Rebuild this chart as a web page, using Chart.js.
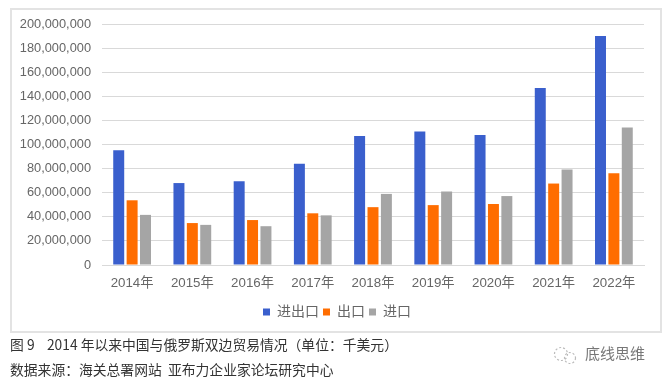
<!DOCTYPE html>
<html><head><meta charset="utf-8">
<script src="https://cdn.jsdelivr.net/npm/chart.js@4"></script>
<style>
html,body{margin:0;padding:0;background:#fff;width:670px;height:385px;overflow:hidden}
#frame{position:absolute;left:10px;top:8px;width:648px;height:321px;border:2px solid #e3e3e3;box-sizing:content-box}
#wrap{position:absolute;left:0;top:0;width:670px;height:335px}
.t{position:absolute;left:10px;font:13.8px "Noto Sans CJK SC",sans-serif;color:#333;white-space:pre;line-height:20px}
#wm{position:absolute;left:585px;top:343px;font:15px "Noto Sans CJK SC",sans-serif;color:#777;line-height:20px}
#ic{position:absolute;left:552px;top:345px}
</style></head><body>
<div id="frame"></div>
<div id="wrap"><canvas id="c" width="670" height="335"></canvas></div>
<div class="t" style="top:334px">图 9    2014 年以来中国与俄罗斯双边贸易情况（单位：千美元）</div>
<div class="t" style="top:359px">数据来源：海关总署网站  亚布力企业家论坛研究中心</div>
<svg id="ic" width="28" height="20" viewBox="0 0 28 20"><circle cx="9" cy="9" r="6.5" fill="none" stroke="#bbb" stroke-width="1.2" stroke-dasharray="2 2"/><circle cx="18" cy="13" r="5.5" fill="none" stroke="#bbb" stroke-width="1.2" stroke-dasharray="2 2"/></svg>
<div id="wm">底线思维</div>
<script>
const categories=["2014年","2015年","2016年","2017年","2018年","2019年","2020年","2021年","2022年"];
const totalTrade=[95300000,68000000,69500000,84000000,107000000,110800000,107800000,146900000,190000000];
const exportsData=[53700000,34800000,37300000,42900000,48000000,49700000,50600000,67600000,76100000];
const importsData=[41600000,33300000,32200000,41200000,59000000,61000000,57200000,79300000,114100000];
const seriesNames=["进出口","出口","进口"];
const font='"Liberation Sans","Noto Sans CJK SC",sans-serif';
const mk=(label,data,color)=>({label,data,backgroundColor:color,categoryPercentage:0.667,barPercentage:0.82});
const shiftLegend={id:'shiftLegend',afterLayout(chart){chart.legend.left+=15;chart.legend.right+=15;}};
new Chart(document.getElementById('c'),{
 type:'bar',
 plugins:[shiftLegend],
 data:{labels:categories,datasets:[mk(seriesNames[0],totalTrade,'#3a5fcd'),mk(seriesNames[1],exportsData,'#ff6d00'),mk(seriesNames[2],importsData,'#a5a5a5')]},
 options:{responsive:false,animation:false,
  layout:{padding:{left:0,right:26,top:24,bottom:6}},
  plugins:{tooltip:{enabled:false},
   legend:{position:'bottom',labels:{boxWidth:7,boxHeight:7,padding:4,color:'#666',font:{family:font,size:14}}}},
  scales:{
   x:{grid:{display:false},border:{color:'#d9d9d9',width:1},ticks:{color:'#666',font:{family:font,size:13.3},padding:2,maxRotation:0},
      afterFit(s){s.height=36}},
   y:{min:0,max:200000000,grid:{color:'#d9d9d9',lineWidth:1,drawTicks:false},border:{display:false},
      ticks:{stepSize:20000000,color:'#666',padding:11,font:{family:font,size:12.8},callback:v=>v.toLocaleString('en-US')},
      afterFit(s){s.width=102}}
  }}
});
</script>
</body></html>
